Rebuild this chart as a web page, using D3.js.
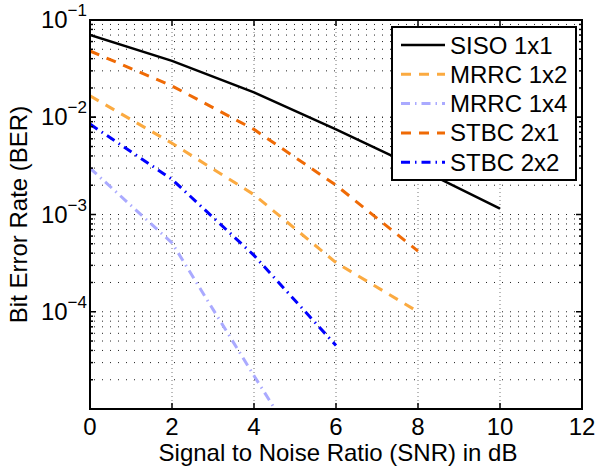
<!DOCTYPE html>
<html>
<head>
<meta charset="utf-8">
<script src="https://cdn.jsdelivr.net/npm/d3@7"></script>
<style>
body { margin: 0; background: #fff; }
svg text { font-family: "Liberation Sans", Arial, Helvetica, sans-serif; fill: #000; }
</style>
</head>
<body>
<svg id="chart"></svg>
<script>
// BER vs SNR values
var snr = [0, 2, 4, 6, 8, 10];
var siso11 = [0.070, 0.038, 0.018, 0.0075, 0.0030, 0.00115];
var mrrc12 = [0.0166, 0.0054, 0.0016, 0.00032, 0.0001];
var mrrc14 = [0.0030, 0.00051, 0.000022, 0.000001];
var stbc21 = [0.048, 0.021, 0.0075, 0.0020, 0.00042];
var stbc22 = [0.0085, 0.0023, 0.00038, 0.000045];
var seriesNames = ["SISO 1x1", "MRRC 1x2", "MRRC 1x4", "STBC 2x1", "STBC 2x2"];
var xTicks = [0, 2, 4, 6, 8, 10, 12];
var yExps = [-1, -2, -3, -4];

var W = 597, H = 470;
var margin = {top: 20, right: 15, bottom: 61, left: 90};
var width = W - margin.left - margin.right,
    height = H - margin.top - margin.bottom;

var svg = d3.select("#chart").attr("width", W).attr("height", H);

var x = d3.scaleLinear().domain([0, 12]).range([0, width]);
var y = d3.scaleLog().domain([1e-5, 1e-1]).range([height, 0]);

// clip for data lines
svg.append("defs").append("clipPath").attr("id", "clip")
  .append("rect").attr("width", width).attr("height", height);

var g = svg.append("g").attr("transform", "translate(" + margin.left + "," + margin.top + ")");

// minor + major horizontal grid
var yGrid = [];
for (var e = -5; e < -1; e++) {
  for (var m = 1; m < 10; m++) yGrid.push(m * Math.pow(10, e));
}
yGrid.push(1e-2);
g.append("g").selectAll("line").data(yGrid.filter(function(v) { return v > 1e-5 && v < 1e-1; }))
  .enter().append("line")
  .attr("x1", 0).attr("x2", width)
  .attr("y1", function(d) { return y(d); }).attr("y2", function(d) { return y(d); })
  .attr("stroke", "#222").attr("stroke-width", 1)
  .attr("stroke-dasharray", "1,7").attr("stroke-dashoffset", -4);

// vertical grid
g.append("g").selectAll("line").data(xTicks.slice(1, -1))
  .enter().append("line")
  .attr("x1", function(d) { return x(d); }).attr("x2", function(d) { return x(d); })
  .attr("y1", 0).attr("y2", height)
  .attr("stroke", "#777").attr("stroke-width", 1)
  .attr("stroke-dasharray", "1,3");

// data lines
var lineGen = d3.line()
  .x(function(d) { return x(d[0]); })
  .y(function(d) { return y(d[1]); });

var styles = [
  {data: siso11, color: "#000000", dash: null, w: 2.5},
  {data: mrrc12, color: "#fbaa40", dash: "10,8", w: 3},
  {data: mrrc14, color: "#aaaaff", dash: "9,5,1.5,5", w: 3},
  {data: stbc21, color: "#ef6a05", dash: "10,8", w: 3},
  {data: stbc22, color: "#0000ff", dash: "9,5,1.5,5", w: 3}
];

var plot = g.append("g").attr("clip-path", "url(#clip)");
styles.forEach(function(s) {
  var pts = s.data.map(function(v, i) { return [snr[i], v]; });
  plot.append("path").datum(pts)
    .attr("d", lineGen)
    .attr("fill", "none")
    .attr("stroke", s.color)
    .attr("stroke-width", s.w)
    .attr("stroke-dasharray", s.dash);
});

// axes box
g.append("rect").attr("width", width).attr("height", height)
  .attr("fill", "none").attr("stroke", "#000").attr("stroke-width", 2);

// ticks inside (MATLAB style)
var ticks = g.append("g").attr("stroke", "#000").attr("stroke-width", 1.5);
xTicks.forEach(function(t) {
  ticks.append("line").attr("x1", x(t)).attr("x2", x(t)).attr("y1", height).attr("y2", height - 6);
  ticks.append("line").attr("x1", x(t)).attr("x2", x(t)).attr("y1", 0).attr("y2", 6);
});
yGrid.forEach(function(v) {
  var major = Math.abs(Math.log10(v) - Math.round(Math.log10(v))) < 1e-9;
  var len = major ? 6 : 3;
  ticks.append("line").attr("x1", 0).attr("x2", len).attr("y1", y(v)).attr("y2", y(v));
  ticks.append("line").attr("x1", width).attr("x2", width - len).attr("y1", y(v)).attr("y2", y(v));
});

// x tick labels
g.append("g").selectAll("text").data(xTicks).enter().append("text")
  .attr("x", function(d) { return x(d); })
  .attr("y", height + 26)
  .attr("text-anchor", "middle")
  .style("font-size", "24px")
  .text(function(d) { return d; });

// y tick labels 10^e
yExps.forEach(function(ex) {
  var yy = y(Math.pow(10, ex));
  var t = g.append("text")
    .attr("x", -3).attr("y", yy + 8)
    .attr("text-anchor", "end")
    .style("font-size", "24px");
  t.append("tspan").text("10");
  t.append("tspan").attr("dy", -12).style("font-size", "17px").text("\u2212" + (-ex));
});

// axis titles
svg.append("text")
  .attr("x", 338)
  .attr("y", 461)
  .attr("text-anchor", "middle")
  .style("font-size", "24px")
  .text("Signal to Noise Ratio (SNR) in dB");

svg.append("text")
  .attr("transform", "translate(27," + (margin.top + height / 2) + ") rotate(-90)")
  .attr("text-anchor", "middle")
  .style("font-size", "24px")
  .text("Bit Error Rate (BER)");

// legend
var lg = svg.append("g").attr("transform", "translate(392,27)");
lg.append("rect").attr("width", 184).attr("height", 153)
  .attr("fill", "#fff").attr("stroke", "#000").attr("stroke-width", 2);
styles.forEach(function(s, i) {
  var ry = 18 + i * 29.3;
  lg.append("line").attr("x1", 9).attr("x2", 53).attr("y1", ry).attr("y2", ry)
    .attr("stroke", s.color).attr("stroke-width", s.w)
    .attr("stroke-dasharray", s.dash);
  lg.append("text").attr("x", 58).attr("y", ry + 8.5)
    .style("font-size", "24px")
    .text(seriesNames[i]);
});
</script>
</body>
</html>
